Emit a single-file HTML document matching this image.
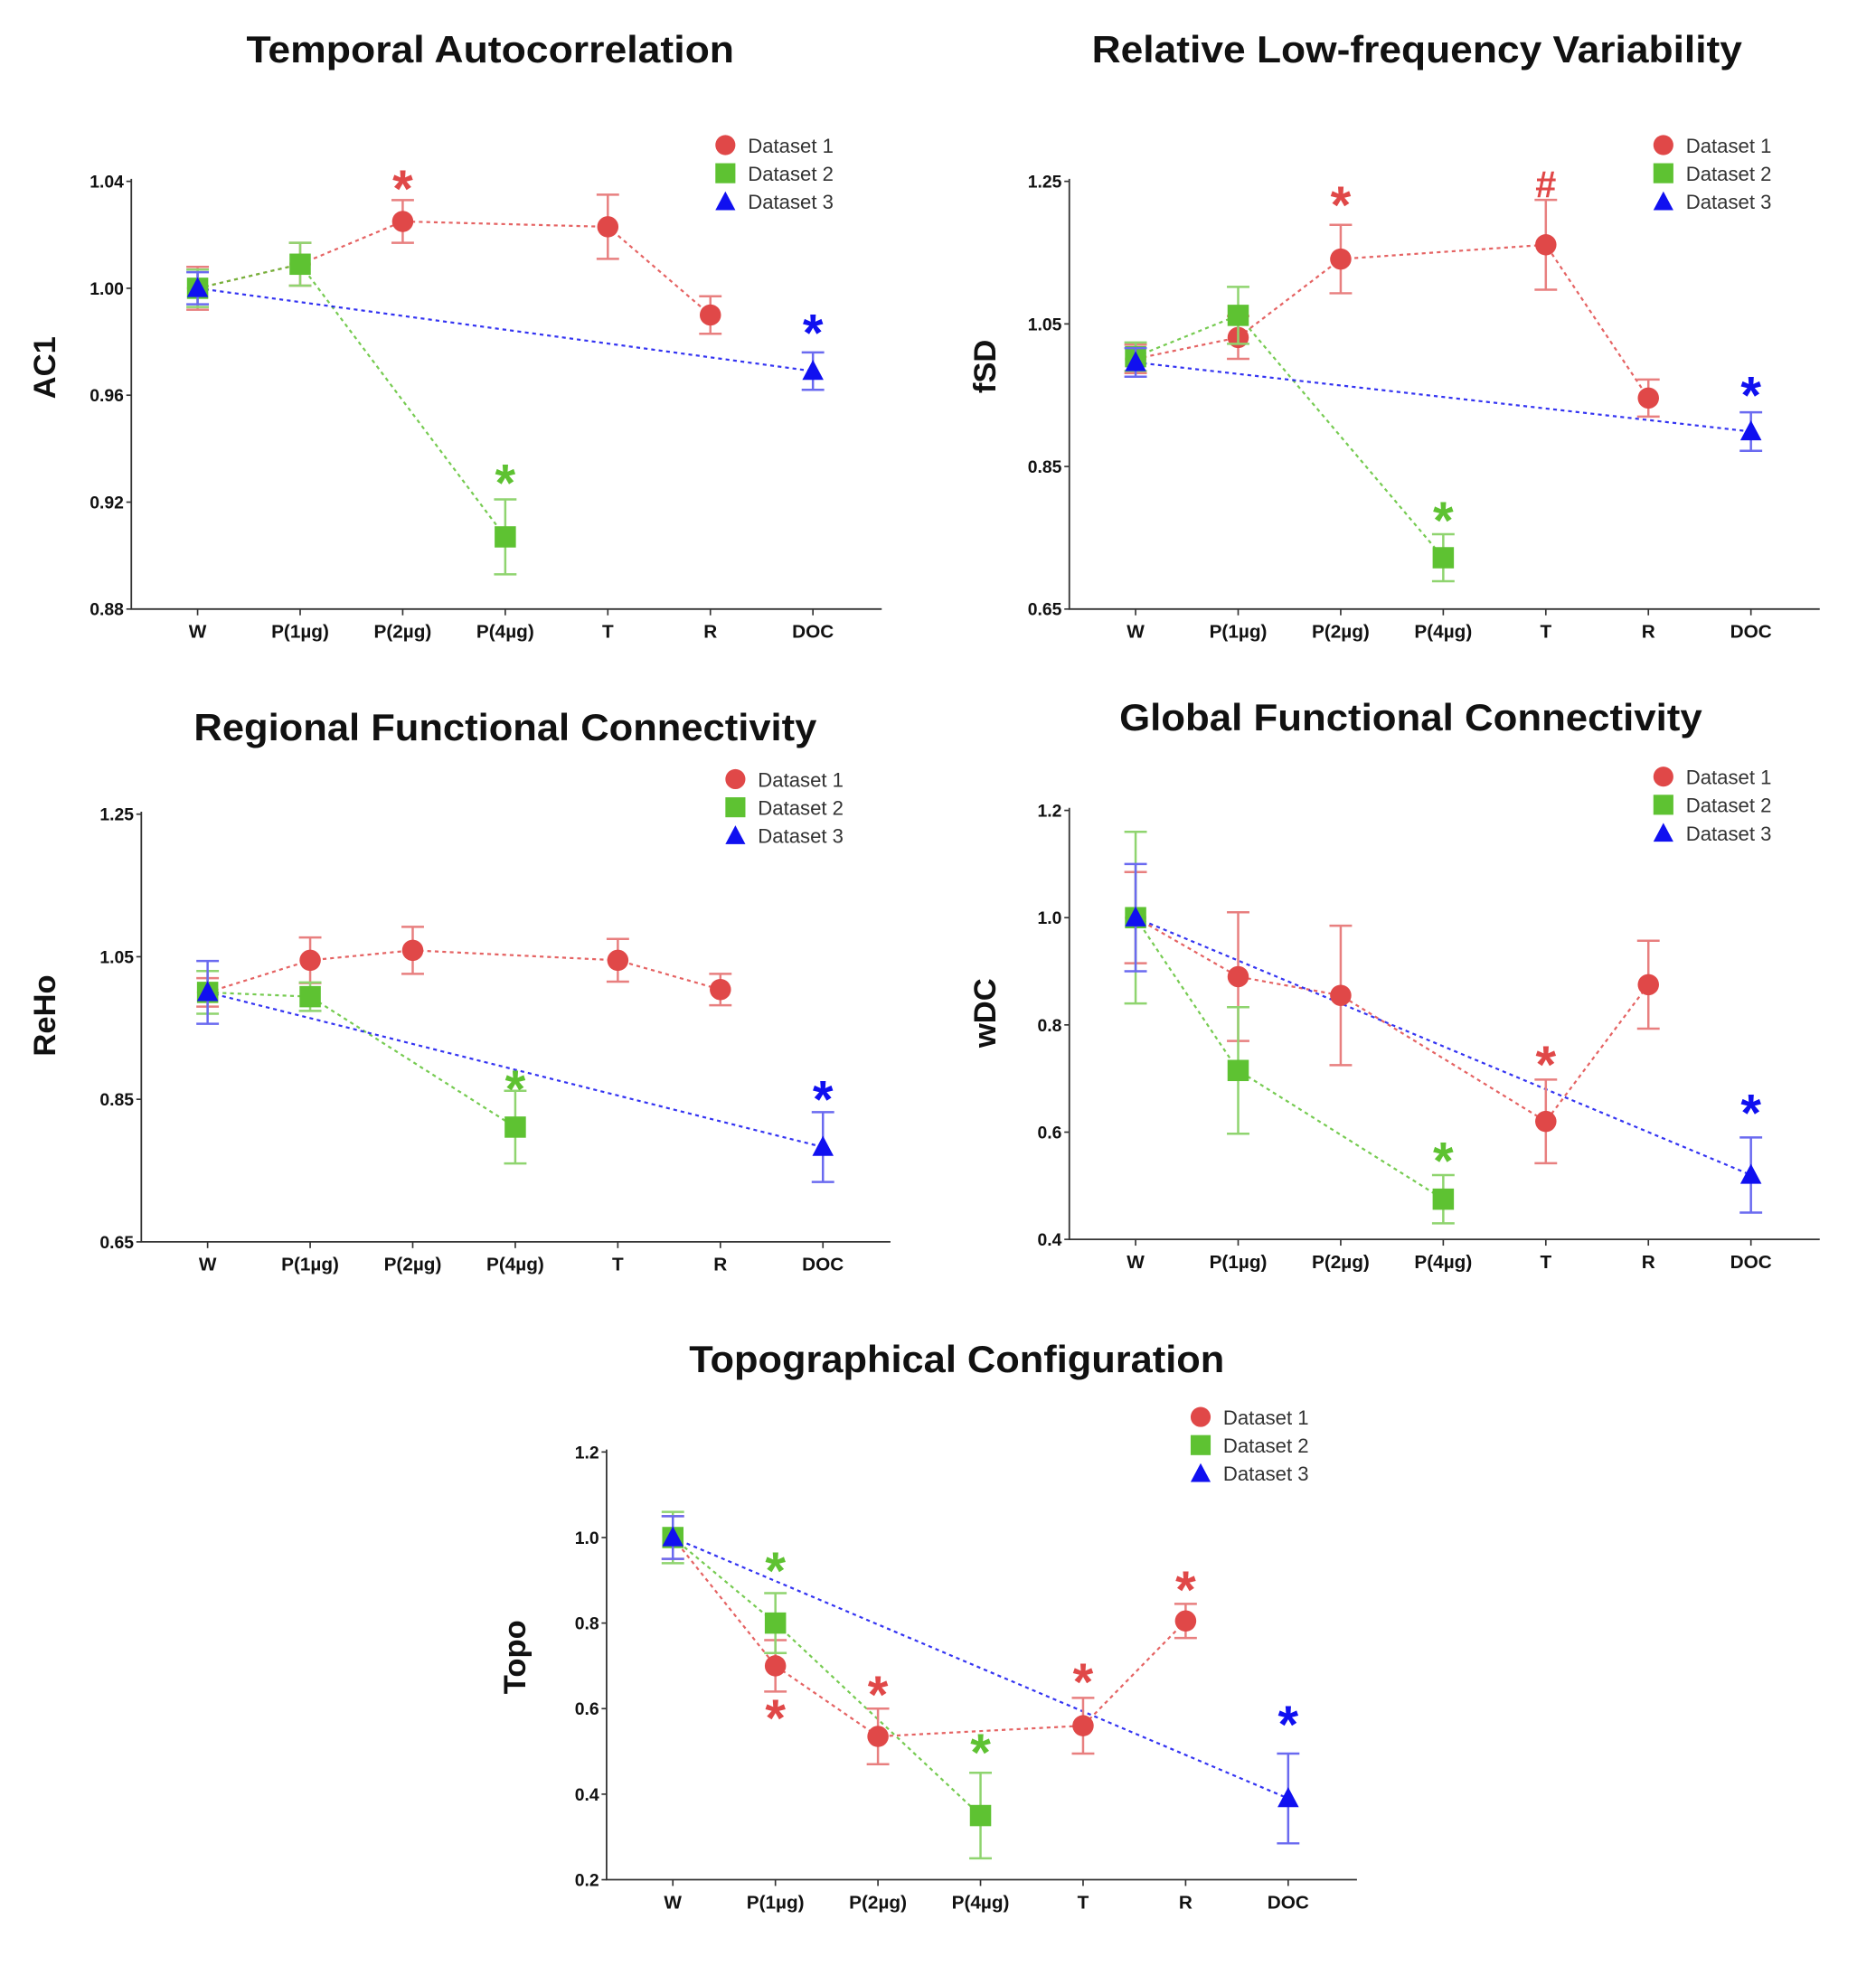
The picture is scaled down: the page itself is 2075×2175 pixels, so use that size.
<!DOCTYPE html>
<html><head><meta charset="utf-8"><style>
html,body{margin:0;padding:0;background:#fff;}
svg{display:block;font-family:"Liberation Sans",Arial,sans-serif;}
</style></head><body>
<svg id="fig" width="2075" height="2175" viewBox="0 0 1500 1572" preserveAspectRatio="none" xmlns="http://www.w3.org/2000/svg"></svg>
<script>
const cats=["W","P(1µg)","P(2µg)","P(4µg)","T","R","DOC"];
// Temporal autocorrelation
const ac1Ticks=[0.88,0.92,0.96,1.00,1.04];
const ac1D1=[1.0,1.009,1.025,null,1.023,0.990,null];
const ac1D1Err=[0.008,0.008,0.008,null,0.012,0.007,null];
const ac1D2=[1.0,1.009,null,0.907,null,null,null];
const ac1D2Err=[0.007,0.008,null,0.014,null,null,null];
const ac1D3=[1.0,null,null,null,null,null,0.969];
const ac1D3Err=[0.006,null,null,null,null,null,0.007];
const ac1Stars=[[2,1.036,0,"*"],[3,0.926,1,"*"],[6,0.982,2,"*"]];
// fSD
const fsdTicks=[0.65,0.85,1.05,1.25];
const fsdD1=[1.001,1.031,1.141,null,1.161,0.946,null];
const fsdD1Err=[0.02,0.03,0.048,null,0.063,0.026,null];
const fsdD2=[1.004,1.062,null,0.722,null,null,null];
const fsdD2Err=[0.02,0.04,null,0.033,null,null,null];
const fsdD3=[0.996,null,null,null,null,null,0.899];
const fsdD3Err=[0.02,null,null,null,null,null,0.027];
const fsdStars=[[2,1.212,0,"*"],[4,1.245,0,"#"],[3,0.77,1,"*"],[6,0.945,2,"*"]];
// ReHo
const rehoTicks=[0.65,0.85,1.05,1.25];
const rehoD1=[1.0,1.045,1.059,null,1.045,1.004,null];
const rehoD1Err=[0.02,0.032,0.033,null,0.03,0.022,null];
const rehoD2=[1.0,0.994,null,0.811,null,null,null];
const rehoD2Err=[0.03,0.02,null,0.051,null,null,null];
const rehoD3=[1.0,null,null,null,null,null,0.783];
const rehoD3Err=[0.044,null,null,null,null,null,0.049];
const rehoStars=[[3,0.86,1,"*"],[6,0.845,2,"*"]];
// wDC
const wdcTicks=[0.4,0.6,0.8,1.0,1.2];
const wdcD1=[1.0,0.89,0.855,null,0.62,0.875,null];
const wdcD1Err=[0.085,0.12,0.13,null,0.078,0.082,null];
const wdcD2=[1.0,0.715,null,0.475,null,null,null];
const wdcD2Err=[0.16,0.118,null,0.045,null,null,null];
const wdcD3=[1.0,null,null,null,null,null,0.52];
const wdcD3Err=[0.1,null,null,null,null,null,0.07];
const wdcStars=[[4,0.72,0,"*"],[3,0.54,1,"*"],[6,0.63,2,"*"]];
// Topo
const topoTicks=[0.2,0.4,0.6,0.8,1.0,1.2];
const topoD1=[1.0,0.70,0.535,null,0.56,0.805,null];
const topoD1Err=[0.05,0.06,0.065,null,0.065,0.04,null];
const topoD2=[1.0,0.80,null,0.35,null,null,null];
const topoD2Err=[0.06,0.07,null,0.1,null,null,null];
const topoD3=[1.0,null,null,null,null,null,0.39];
const topoD3Err=[0.05,null,null,null,null,null,0.105];
const topoStars=[[1,0.915,1,"*"],[1,0.57,0,"*"],[2,0.625,0,"*"],[3,0.49,1,"*"],[4,0.655,0,"*"],[5,0.87,0,"*"],[6,0.555,2,"*"]];

const NS="http://www.w3.org/2000/svg";
const svg=document.getElementById("fig");
const COL=["#e04848","#5ec232","#1010f0"];
const ERRCOL=["#e87f7f","#8fd46f","#6a6af0"];
function mk(tag,attrs,parent){const e=document.createElementNS(NS,tag);for(const k in attrs)e.setAttribute(k,attrs[k]);(parent||svg).appendChild(e);return e;}

function panel(cfg){
  const g=mk("g",{});
  
  
  const ymin=cfg.ticks[0],ymax=cfg.ticks[cfg.ticks.length-1];
  const Y=v=>cfg.bottom-(v-ymin)/(ymax-ymin)*(cfg.bottom-cfg.top);
  const X=i=>cfg.x0+i*cfg.dx;
  const t=mk("text",{x:cfg.tx,y:cfg.ty,"text-anchor":"middle","font-size":30,"font-weight":"bold",textLength:cfg.tw,lengthAdjust:"spacingAndGlyphs",fill:"#111"},g);
  t.textContent=cfg.title;
  
  
  const yl=mk("text",{x:0,y:0,transform:`translate(${cfg.ylx},${cfg.yly}) rotate(-90)`,"text-anchor":"middle","font-size":25,"font-weight":"bold",fill:"#111"},g);
  yl.textContent=cfg.ylabel;
  
  
  const ax=mk("path",{d:`M${cfg.ax},${cfg.top-2}V${cfg.bottom}H${cfg.axEnd}`,stroke:"#333","stroke-width":1.3,fill:"none"},g);
  
  
  cfg.ticks.forEach(v=>{
    mk("line",{x1:cfg.ax-4,x2:cfg.ax,y1:Y(v),y2:Y(v),stroke:"#333","stroke-width":1.2},g);
    const tl=mk("text",{x:cfg.ax-6,y:Y(v)+5,"text-anchor":"end","font-size":14,"font-weight":"bold",fill:"#111"},g);
    tl.textContent=v.toFixed(cfg.dec);
    
    
  });
  cats.forEach((c,i)=>{
    mk("line",{x1:X(i),x2:X(i),y1:cfg.bottom,y2:cfg.bottom+5,stroke:"#333","stroke-width":1.2},g);
    const xl=mk("text",{x:X(i),y:cfg.bottom+23,"text-anchor":"middle","font-size":15,"font-weight":"bold",fill:"#111"},g);
    xl.textContent=c;
    
    
  });
  cfg.series.forEach((s,si)=>{
    const vals=s[0];
    const pts=[];vals.forEach((v,i)=>{if(v!==null)pts.push([X(i),Y(v),i]);});
    const ln=mk("polyline",{points:pts.map(p=>p[0]+","+p[1]).join(" "),stroke:COL[si],"stroke-width":1.6,"stroke-dasharray":"3,3",fill:"none",opacity:0.85},g);
    
    
  });
  cfg.series.forEach((s,si)=>{
    const vals=s[0],errs=s[1];
    vals.forEach((v,i)=>{
      if(v===null)return;
      const x=X(i),y=Y(v),e=errs[i]||0;
      if(e>0){
        const eb=mk("path",{d:`M${x},${Y(v+e)}V${Y(v-e)}M${x-9},${Y(v+e)}H${x+9}M${x-9},${Y(v-e)}H${x+9}`,stroke:ERRCOL[si],"stroke-width":1.8,fill:"none"},g);
        
        
      }
      let m;
      if(si===0)m=mk("circle",{cx:x,cy:y,r:8.5,fill:COL[0]},g);
      else if(si===1)m=mk("rect",{x:x-8.5,y:y-8.5,width:17,height:17,fill:COL[1]},g);
      else m=mk("path",{d:`M${x},${y-9}L${x+8.5},${y+7}L${x-8.5},${y+7}Z`,fill:COL[2]},g);
      
      
    });
  });
  cfg.stars.forEach(st=>{
    const isHash=st[3]==="#";
    const a=mk("text",{x:X(st[0]),y:Y(st[1])+(isHash?10:12),"text-anchor":"middle","font-size":isHash?30:42,"font-weight":"bold",fill:COL[st[2]]},g);
    a.textContent=st[3];
    
    
  });
  const lg=mk("g",{},g);
  
  
  ["Dataset 1","Dataset 2","Dataset 3"].forEach((n,i)=>{
    const ly=cfg.ly+i*22.5,lx=cfg.lx;
    if(i===0)mk("circle",{cx:lx,cy:ly,r:8,fill:COL[0]},lg);
    else if(i===1)mk("rect",{x:lx-8,y:ly-8,width:16,height:16,fill:COL[1]},lg);
    else mk("path",{d:`M${lx},${ly-8}L${lx+8},${ly+7}L${lx-8},${ly+7}Z`,fill:COL[2]},lg);
    const lt=mk("text",{x:lx+18,y:ly+6,"font-size":16,fill:"#333"},lg);
    lt.textContent=n;
    
    
  });
}

panel({name:"ac1-panel",title:"Temporal Autocorrelation",tx:392,ty:50,tw:390,ylabel:"AC1",ylx:44,yly:294,ax:105,axEnd:705,top:145,bottom:487,x0:158,dx:82,ticks:ac1Ticks,dec:2,lx:580,ly:116,
  series:[[ac1D1,ac1D1Err],[ac1D2,ac1D2Err],[ac1D3,ac1D3Err]],stars:ac1Stars});
panel({name:"fsd-panel",title:"Relative Low-frequency Variability",tx:1133,ty:50,tw:520,ylabel:"fSD",ylx:796,yly:293,ax:855,axEnd:1455,top:145,bottom:487,x0:908,dx:82,ticks:fsdTicks,dec:2,lx:1330,ly:116,
  series:[[fsdD1,fsdD1Err],[fsdD2,fsdD2Err],[fsdD3,fsdD3Err]],stars:fsdStars});
panel({name:"reho-panel",title:"Regional Functional Connectivity",tx:404,ty:592,tw:498,ylabel:"ReHo",ylx:44,yly:812,ax:113,axEnd:712,top:651,bottom:993,x0:166,dx:82,ticks:rehoTicks,dec:2,lx:588,ly:623,
  series:[[rehoD1,rehoD1Err],[rehoD2,rehoD2Err],[rehoD3,rehoD3Err]],stars:rehoStars});
panel({name:"wdc-panel",title:"Global Functional Connectivity",tx:1128,ty:584,tw:466,ylabel:"wDC",ylx:796,yly:810,ax:855,axEnd:1455,top:648,bottom:991,x0:908,dx:82,ticks:wdcTicks,dec:1,lx:1330,ly:621,
  series:[[wdcD1,wdcD1Err],[wdcD2,wdcD2Err],[wdcD3,wdcD3Err]],stars:wdcStars});
panel({name:"topo-panel",title:"Topographical Configuration",tx:765,ty:1097,tw:428,ylabel:"Topo",ylx:420,yly:1325,ax:485,axEnd:1085,top:1161,bottom:1503,x0:538,dx:82,ticks:topoTicks,dec:1,lx:960,ly:1133,
  series:[[topoD1,topoD1Err],[topoD2,topoD2Err],[topoD3,topoD3Err]],stars:topoStars});
</script>
</body></html>
